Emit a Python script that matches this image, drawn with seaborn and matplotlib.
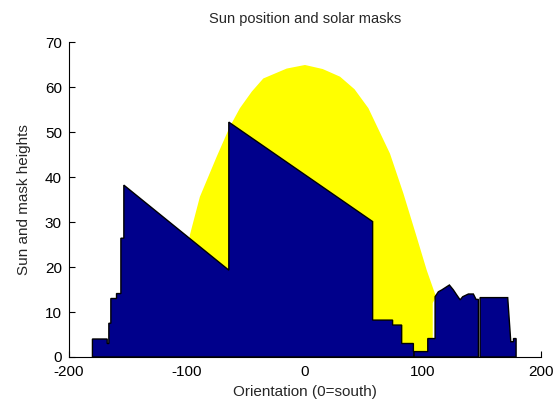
import matplotlib
matplotlib.use("Agg")
import matplotlib.pyplot as plt
import seaborn as sns
import numpy as np

# Outer envelope of the sun paths (azimuth from south, elevation in degrees)
sun_az = [-105, -97.5, -89, -74.8, -63.6, -55.1, -45, -35.3, -15.5, 0, 15, 29.7, 42, 53.7,
          72, 83.3, 94.6, 103.1, 111, 108.2, 108.2, 104, 104]
sun_el = [0, 27.1, 35.6, 44.5, 51.2, 55.3, 59.0, 61.9, 64.1, 64.9, 64.0, 62.3, 59.5, 55.3,
          45.2, 36.4, 26.7, 19.3, 13.4, 12.0, 4.1, 1.2, 0]

# Solar masks (horizon profile), one outline per obstacle
mask1_az = [-180, -180, -167.5, -167.5, -166.1, -166.1, -164.4, -164.4, -159.6, -159.6,
            -155.9, -155.9, -153.4, -153.4, -64.5, -64.5, 57.3, 57.3, 74.2, 74.2,
            81.9, 81.9, 91.8, 91.8, 92.4, 92.4]
mask1_h = [0, 4.0, 4.0, 3.0, 3.0, 7.5, 7.5, 13.0, 13.0, 14.1,
           14.1, 26.4, 26.4, 38.2, 19.3, 52.2, 30.1, 8.2, 8.2, 7.1,
           7.1, 3.0, 3.0, 1.2, 1.2, 0]

mask2_az = [92.4, 92.4, 104, 104, 110.2, 110.2, 113, 115.8, 122.3, 125.7, 128.5,
            131.4, 133.6, 138.4, 142.6, 144.9, 146.9, 146.9]
mask2_h = [0, 1.2, 1.2, 4.1, 4.1, 13.4, 14.5, 14.9, 16.0, 14.9, 13.8,
           12.7, 13.4, 14.0, 14.0, 12.8, 12.8, 0]

mask3_az = [148.3, 148.3, 171.7, 173.1, 174.3, 176.6, 176.6, 178.8, 178.8]
mask3_h = [0, 13.2, 13.2, 7.9, 3.4, 3.4, 4.1, 4.1, 0]

x_ticks = [-200, -100, 0, 100, 200]
y_ticks = [0, 10, 20, 30, 40, 50, 60, 70]

sns.set_style("ticks", {"xtick.direction": "in", "ytick.direction": "in"})
plt.rcParams["font.family"] = ["Liberation Sans", "DejaVu Sans"]
plt.rcParams["font.size"] = 10
plt.rcParams["axes.unicode_minus"] = False

fig = plt.figure(figsize=(5.55, 4.08), dpi=100)
ax = fig.add_axes([0.124, 0.125, 0.851, 0.772])

ax.fill(sun_az, sun_el, color="#ffff00", lw=0, zorder=1)

navy = "#00008b"
for az, h in [(mask1_az, mask1_h), (mask2_az, mask2_h), (mask3_az, mask3_h)]:
    ax.fill(az, h, facecolor=navy, edgecolor="black", lw=1.0, zorder=2)

ax.set_xlim(-200, 200)
ax.set_ylim(0, 70)
ax.set_xticks(x_ticks)
ax.set_yticks(y_ticks)
ax.tick_params(direction="in", length=4, width=0.8, labelsize=11, colors="black", pad=5)
ax.tick_params(axis="x", pad=6)
for s in ["left", "bottom"]:
    ax.spines[s].set_linewidth(0.8)
    ax.spines[s].set_color("black")
sns.despine(ax=ax)

ax.set_title("Sun position and solar masks", fontsize=10.5, pad=14)
ax.set_xlabel("Orientation (0=south)", fontsize=11, labelpad=4)
ax.set_ylabel("Sun and mask heights", fontsize=11, labelpad=10)

fig.savefig("out.png", dpi=100)
